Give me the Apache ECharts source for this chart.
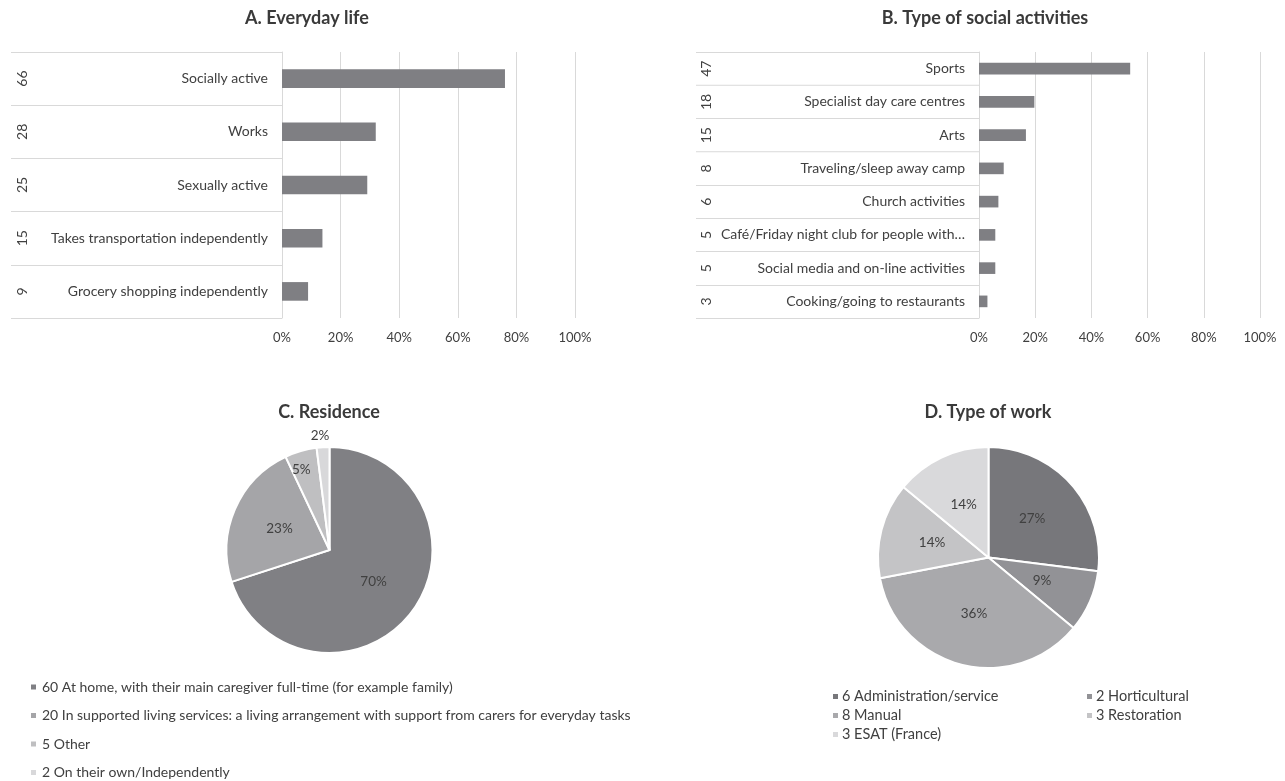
<!DOCTYPE html>
<html>
<head>
<meta charset="utf-8">
<script src="https://cdn.jsdelivr.net/npm/echarts@6/dist/echarts.min.js"></script>
<style>
  html, body { margin: 0; padding: 0; background: #ffffff; }
  #chart { width: 1285px; height: 781px; }
</style>
</head>
<body>
<div id="chart"></div>
<script>
// A. Everyday life
const lifeCategories = [
  'Socially active',
  'Works',
  'Sexually active',
  'Takes transportation independently',
  'Grocery shopping independently'
];
const lifeCounts = [66, 28, 25, 15, 9];
const lifePercent = [76.1, 32.0, 29.1, 13.8, 8.9];

// B. Type of social activities
const activityCategories = [
  'Sports',
  'Specialist day care centres',
  'Arts',
  'Traveling/sleep away camp',
  'Church activities',
  'Café/Friday night club for people with…',
  'Social media and on-line activities',
  'Cooking/going to restaurants'
];
const activityCounts = [47, 18, 15, 8, 6, 5, 5, 3];
const activityPercent = [53.8, 19.7, 16.7, 8.8, 6.9, 5.8, 5.8, 3.0];

// shared percentage axis
const percentTicks = [0, 20, 40, 60, 80, 100];

// C. Residence
const residenceNames = [
  '60 At home, with their main caregiver full-time (for example family)',
  '20 In supported living services: a living arrangement with support from carers for everyday tasks',
  '5 Other',
  '2 On their own/Independently'
];
const residenceShare = [70, 23, 5, 2];

// D. Type of work
const workNames = [
  '6 Administration/service',
  '2 Horticultural',
  '8 Manual',
  '3 Restoration',
  '3 ESAT (France)'
];
const workShare = [27, 9, 36, 14, 14];

const FONT = 'Lato, "Open Sans", sans-serif';
const TEXT = '#404040';
const GRID_LINE = '#d9d9d9';
const BAR = '#7f7f83';
const residenceColors = ['#808084', '#a5a5a8', '#bfbfc1', '#d8d8da'];
const workColors = ['#77777b', '#929296', '#a9a9ac', '#c4c4c6', '#d9d9db'];

// per-slice label nudges for the thin residence slices
const residenceLabelOffset = { 2: [-13, -28], 3: [-6, -60] };

function percentAxis(gridIndex) {
  return {
    type: 'value', gridIndex: gridIndex,
    min: percentTicks[0], max: percentTicks[percentTicks.length - 1],
    interval: percentTicks[1] - percentTicks[0],
    axisLine: { show: false }, axisTick: { show: false },
    splitLine: { show: true, lineStyle: { color: GRID_LINE, width: 1 } },
    axisLabel: { formatter: v => v + '%', margin: 13, fontSize: 13, color: TEXT, fontFamily: FONT }
  };
}

function categoryAxis(gridIndex, cats, tickLen) {
  return {
    type: 'category', gridIndex: gridIndex, data: cats, inverse: true, position: 'left',
    axisLine: { show: true, lineStyle: { color: GRID_LINE, width: 1 } },
    axisTick: { show: true, length: tickLen, lineStyle: { color: GRID_LINE, width: 1 } },
    splitLine: { show: false },
    axisLabel: { interval: 0, margin: 14, fontSize: 14, color: TEXT, fontFamily: FONT }
  };
}

function countAxis(gridIndex, cats, counts, margin) {
  return {
    type: 'category', gridIndex: gridIndex, data: cats, inverse: true, position: 'left',
    axisLine: { show: false }, axisTick: { show: false }, splitLine: { show: false },
    axisLabel: {
      interval: 0, rotate: 90, margin: margin, align: 'center', verticalAlign: 'middle',
      fontSize: 14, color: TEXT, fontFamily: FONT,
      formatter: (v, i) => String(counts[i])
    }
  };
}

function titleText(text, x, y) {
  return {
    type: 'text', x: x, y: y,
    style: { text: text, fill: '#3a3a3a', font: 'bold 18px ' + FONT, textAlign: 'center', textVerticalAlign: 'middle' }
  };
}

const chart = echarts.init(document.getElementById('chart'), null, { renderer: 'canvas' });

chart.setOption({
  animation: false,
  backgroundColor: '#ffffff',
  textStyle: { fontFamily: FONT },
  graphic: [
    titleText('A. Everyday life', 307, 18),
    titleText('B. Type of social activities', 985, 18),
    titleText('C. Residence', 329, 412),
    titleText('D. Type of work', 988, 412)
  ],
  grid: [
    { left: 282, top: 52, width: 293, height: 266, containLabel: false },
    { left: 979, top: 52, width: 281, height: 266, containLabel: false }
  ],
  xAxis: [percentAxis(0), percentAxis(1)],
  yAxis: [
    categoryAxis(0, lifeCategories, 271),
    countAxis(0, lifeCategories, lifeCounts, 260),
    categoryAxis(1, activityCategories, 283),
    countAxis(1, activityCategories, activityCounts, 273)
  ],
  legend: [
    {
      orient: 'vertical', left: 29, top: 680, padding: 0,
      itemWidth: 7, itemHeight: 7, itemGap: 14.5, icon: 'rect',
      data: residenceNames, selectedMode: false,
      textStyle: { fontSize: 14, color: TEXT, fontFamily: FONT }
    },
    {
      orient: 'vertical', left: 831, top: 689, padding: 0,
      itemWidth: 7, itemHeight: 7, itemGap: 4, icon: 'rect',
      data: [workNames[0], workNames[2], workNames[4]], selectedMode: false,
      textStyle: { fontSize: 14.5, color: TEXT, fontFamily: FONT, padding: [0, 0, 0, -2] }
    },
    {
      orient: 'vertical', left: 1085, top: 689, padding: 0,
      itemWidth: 7, itemHeight: 7, itemGap: 4, icon: 'rect',
      data: [workNames[1], workNames[3]], selectedMode: false,
      textStyle: { fontSize: 14.5, color: TEXT, fontFamily: FONT, padding: [0, 0, 0, -2] }
    }
  ],
  series: [
    {
      type: 'bar', xAxisIndex: 0, yAxisIndex: 0, data: lifePercent,
      barWidth: '35%', itemStyle: { color: BAR }, silent: true
    },
    {
      type: 'bar', xAxisIndex: 1, yAxisIndex: 2, data: activityPercent,
      barWidth: '35%', itemStyle: { color: BAR }, silent: true
    },
    {
      type: 'pie', center: [329.5, 550], radius: 103, startAngle: 90, clockwise: true,
      silent: true,
      data: residenceNames.map((n, i) => {
        const item = { name: n, value: residenceShare[i], itemStyle: { color: residenceColors[i] } };
        if (residenceLabelOffset[i]) item.label = { offset: residenceLabelOffset[i] };
        return item;
      }),
      label: { show: true, position: 'inside', formatter: '{c}%', fontSize: 13.5, color: TEXT, fontFamily: FONT },
      labelLine: { show: false },
      itemStyle: { borderColor: '#ffffff', borderWidth: 2 }
    },
    {
      type: 'pie', center: [988.5, 557.5], radius: 110.5, startAngle: 90, clockwise: true,
      silent: true,
      data: workNames.map((n, i) => ({ name: n, value: workShare[i], itemStyle: { color: workColors[i] } })),
      label: { show: true, position: 'inside', formatter: '{c}%', fontSize: 13.5, color: TEXT, fontFamily: FONT },
      labelLine: { show: false },
      itemStyle: { borderColor: '#ffffff', borderWidth: 2 }
    }
  ]
});
</script>
</body>
</html>
